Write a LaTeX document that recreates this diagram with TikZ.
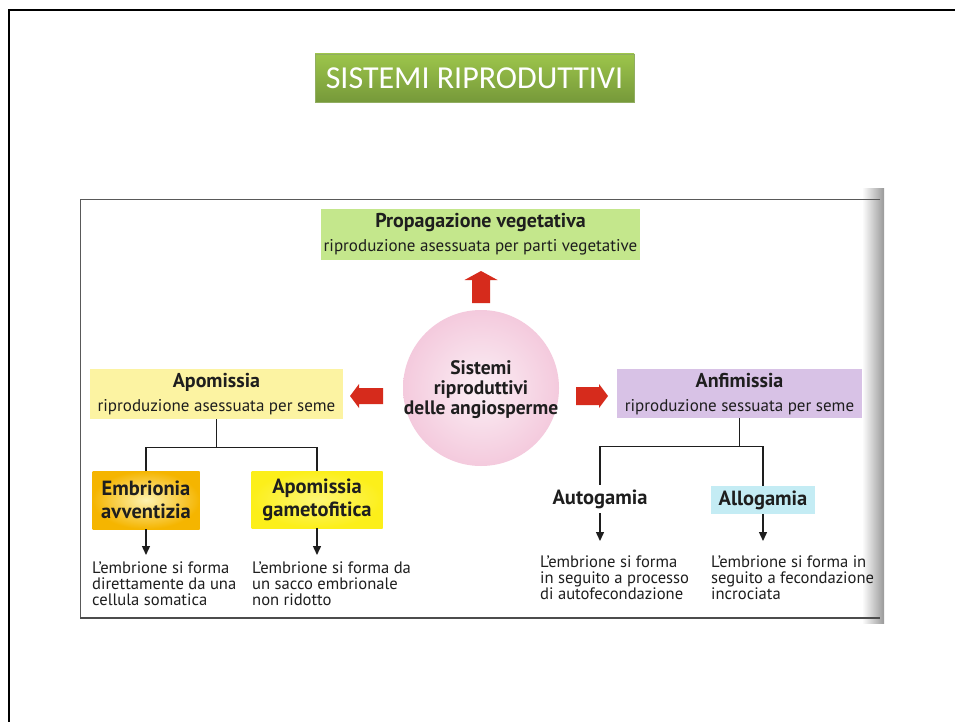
\documentclass[tikz,border=0pt]{standalone}
\usepackage{fontspec}
\setmainfont{PT Sans}
\newfontfamily\titlefont{Carlito}
\usetikzlibrary{arrows.meta}
\definecolor{txt}{HTML}{1E1E1E}
\definecolor{ttop}{HTML}{9DC54B}
\definecolor{tbot}{HTML}{76993A}
\definecolor{propg}{HTML}{C4E78C}
\definecolor{apoy}{HTML}{FCF3A2}
\definecolor{anfl}{HTML}{D8C2E6}
\definecolor{embo}{HTML}{F5B500}
\definecolor{embi}{HTML}{FDF2B0}
\definecolor{gamy}{HTML}{FCEF1A}
\definecolor{allc}{HTML}{C4ECF4}
\definecolor{pinko}{HTML}{F4CADD}
\definecolor{pinki}{HTML}{FBEFF5}
\definecolor{redar}{HTML}{D62B1C}
\tikzset{
  box/.style={draw=none, inner sep=0pt, align=center, text=txt},
  ttl/.style={font=\bfseries\fontsize{20}{22}\selectfont},
  sub/.style={font=\fontsize{17}{19}\selectfont},
  leaf/.style={box, font=\bfseries\fontsize{20.5}{23}\selectfont},
  desc/.style={anchor=north west, inner xsep=0pt, inner ysep=7pt, align=left, text=txt,
     font=\fontsize{16.6}{16}\selectfont},
  tree/.style={draw=txt, line width=1.3pt},
  arr/.style={draw=txt, line width=1.4pt, -{Triangle[width=8pt,length=9pt]}},
  redarrow/.style={fill=redar, draw=none}
}
\begin{document}
\begin{tikzpicture}[x=1pt,y=-1pt]
\useasboundingbox (0,0) rectangle (955,722);
\fill[white] (0,0) rectangle (955,722);
% slide frame
\draw[black, line width=2pt] (9,722) -- (9,10) -- (955,10);
% title
\node[box, minimum width=319, minimum height=48, top color=ttop, bottom color=tbot, draw=tbot!80!white, line width=0.4pt,
      text=white, font=\titlefont\fontsize{32}{34}\selectfont] (title) at (474.5,78) {SISTEMI RIPRODUTTIVI};
% scanned figure frame with scan shadow
\shade[left color=white, right color=black!40] (862,189) rectangle (884,623);
\draw[black!65, line width=0.8pt] (880,199) -- (80,199) -- (80,618);
\draw[black!70, line width=1.6pt] (80,618) -- (880,618);
% top box
\node[box, minimum width=319, minimum height=51, fill=propg] (prop) at (480.5,234.5) {};
\node[box, ttl] (propt) at (480.5,223) {Propagazione vegetativa};
\node[box, sub] (props) at (480.5,247) {riproduzione asessuata per parti vegetative};
% central circle
\node[circle, minimum size=156, inner sep=0pt, inner color=pinki, outer color=pinko] (circ) at (481,388) {};
\node[box, font=\bfseries\fontsize{19.5}{20}\selectfont] (circt) at (481,390) {Sistemi\\riproduttivi\\delle angiosperme};
% red block arrows
\fill[redarrow] (481,271) -- (497.5,280) -- (490,280) -- (490,303) -- (472,303) -- (472,280) -- (464.5,280) -- cycle;
\fill[redarrow] (350,396) -- (359,384) -- (359,388) -- (383,388) -- (383,404) -- (359,404) -- (359,408) -- cycle;
\fill[redarrow] (608,396) -- (599,384) -- (599,387) -- (576,387) -- (576,405) -- (599,405) -- (599,408) -- cycle;
% Apomissia
\node[box, minimum width=253, minimum height=50, fill=apoy] (apo) at (216.5,394) {};
\node[box, ttl] (apot) at (216.5,382) {Apomissia};
\node[box, sub] (apos) at (216.5,407) {riproduzione asessuata per seme};
% Anfimissia
\node[box, minimum width=245, minimum height=49, fill=anfl] (anf) at (739.5,393.5) {};
\node[box, ttl] (anft) at (739.5,381) {Anfimissia};
\node[box, sub] (anfs) at (739.5,407) {riproduzione sessuata per seme};
% leaves left
\node[leaf, minimum width=107, minimum height=58, inner color=embi, outer color=embo] (embr) at (146,500) {Embrionia\\avventizia};
\node[leaf, minimum width=131, minimum height=57, inner color=gamy!60!white, outer color=gamy] (gam) at (317,499.5) {Apomissia\\gametofitica};
% leaves right
\node[leaf, minimum width=104, minimum height=28, fill=white] (auto) at (600,499) {Autogamia};
\node[leaf, minimum width=104, minimum height=28, fill=allc] (allo) at (763,500) {Allogamia};
% tree connectors
\draw[tree] (apo.south) -- ++(0,28) coordinate (apj);
\draw[tree] (embr.north) |- (apj) -| (gam.north);
\draw[tree] (anf.south) -- ++(0,28) coordinate (anj);
\draw[tree] (auto.north) |- (anj) -| (allo.north);
% descriptions
\node[desc] (d1) at (92,555) {L’embrione si forma\\direttamente da una\\cellula somatica};
\node[desc] (d2) at (252,555) {L’embrione si forma da\\un sacco embrionale\\non ridotto};
\node[desc, inner ysep=15pt] (d3) at (540,541) {L’embrione si forma\\in seguito a processo\\di autofecondazione};
\node[desc, inner ysep=15pt] (d4) at (711,541) {L’embrione si forma in\\seguito a fecondazione\\incrociata};
\draw[arr] (embr.south) -- (embr.south |- d1.north);
\draw[arr] (gam.south) -- (gam.south |- d2.north);
\draw[arr] (auto.south) -- (auto.south |- d3.north);
\draw[arr] (allo.south) -- (allo.south |- d4.north);
\end{tikzpicture}
\end{document}
